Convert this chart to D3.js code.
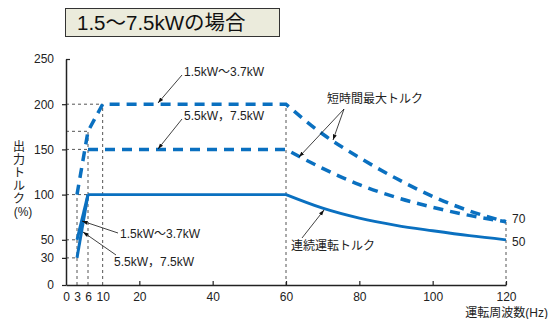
<!DOCTYPE html>
<html>
  <head>
    <meta charset="utf-8">
    <title></title>
    <style>
      body, html{
        margin: 0;
        width: 100%;
        height: 100%;
        background: #fff;
      }
      svg{
        display: block;
        font-family: "Liberation Sans", Arial, "Noto Sans CJK JP", sans-serif;
      }
      .ja{
        font-family: "Liberation Sans", "Noto Sans CJK JP", sans-serif;
      }
    </style>
  </head>
  <body>
    <svg id="chart" width="551" height="319"></svg>
    <script src="https://cdnjs.cloudflare.com/ajax/libs/d3/7.8.5/d3.min.js" charset="utf-8"></script>
    <script>
      // values
      var xTicks = [0, 3, 6, 10, 20, 40, 60, 80, 100, 120]
      var yTicks = [0, 30, 50, 100, 150, 200, 250]

      // short-time max torque, 1.5kW~3.7kW
      var shortAFreq = [3, 6, 10, 60, 70, 80, 90, 100, 110, 120]
      var shortATorque = [100, 170, 200, 200, 167, 141, 118, 98, 82, 70]
      // short-time max torque, 5.5kW, 7.5kW
      var shortBFreq = [6, 60, 70, 80, 90, 100, 110, 120]
      var shortBTorque = [150, 150, 129, 111, 97, 86, 77, 70]
      // continuous torque
      var contFreq = [6, 60, 70, 80, 90, 100, 110, 120]
      var contTorque = [100, 100, 85, 74, 66, 60, 54.5, 50]
      var startAFreq = [3, 6], startATorque = [50, 100]
      var startBFreq = [3, 6], startBTorque = [30, 100]

      // dotted guide lines: [x0, y0, x1, y1] in data units
      var guides = [
        [0, 200, 10, 200], [0, 170, 6, 170], [0, 150, 6, 150], [0, 100, 6, 100],
        [0, 50, 3, 50], [0, 30, 3, 30],
        [3, 0, 3, 100], [6, 0, 6, 170], [10, 0, 10, 200], [60, 0, 60, 200], [120, 0, 120, 70]
      ]

      var blue = '#0a70c0'
      var svg = d3.select('#chart')
      var x = d3.scaleLinear().domain([0, 120]).range([66, 506])
      var y = d3.scaleLinear().domain([0, 250]).range([285, 59])

      svg.append('defs').append('marker')
        .attr('id', 'arr').attr('viewBox', '0 0 10 10').attr('refX', 10).attr('refY', 5)
        .attr('markerWidth', 7).attr('markerHeight', 7).attr('orient', 'auto')
        .append('path').attr('d', 'M0,1.5L10,5L0,8.5z').attr('fill', '#111')

      // title box
      svg.append('rect').attr('x', 65.5).attr('y', 8.5).attr('width', 214).attr('height', 28)
        .attr('fill', '#ebebdc').attr('stroke', '#333').attr('stroke-width', 1)
      svg.append('text').attr('class', 'ja').attr('x', 77).attr('y', 30)
        .attr('font-size', 20.5).attr('fill', '#111').text('1.5〜7.5kWの場合')

      // guides
      svg.append('g').selectAll('line').data(guides).join('line')
        .attr('x1', function(d){ return x(d[0]) }).attr('y1', function(d){ return y(d[1]) })
        .attr('x2', function(d){ return x(d[2]) }).attr('y2', function(d){ return y(d[3]) })
        .attr('stroke', '#555').attr('stroke-width', 1).attr('stroke-dasharray', '3,3')

      // axes
      var xAxis = svg.append('g').attr('transform', 'translate(0,' + y(0) + ')')
        .call(d3.axisBottom(x).tickValues(xTicks).tickSize(0).tickPadding(7))
      xAxis.select('.domain').attr('stroke', '#222').attr('stroke-width', 1.5)
      xAxis.selectAll('text').attr('font-size', 12).attr('fill', '#222')
      xAxis.selectAll('.tick').filter(function(d){ return d >= 20 }).select('line')
        .attr('y2', -4).attr('stroke', '#222').attr('stroke-width', 1.2)

      var yAxis = svg.append('g').attr('transform', 'translate(' + x(0) + ',0)')
        .call(d3.axisLeft(y).tickValues(yTicks).tickSizeInner(4).tickSizeOuter(0).tickPadding(8))
      yAxis.select('.domain').attr('stroke', '#222').attr('stroke-width', 1.5)
      yAxis.selectAll('line').attr('stroke', '#222').attr('stroke-width', 1.2)
      yAxis.selectAll('text').attr('font-size', 12).attr('fill', '#222')
      yAxis.selectAll('.tick').filter(function(d){ return d === 250 }).select('line').attr('x2', 4)

      // curves: straight up to 60 Hz, smooth fall after it, joined into one path
      function pts(fs, ts){ return fs.map(function(f, i){ return [f, ts[i]] }) }
      var smooth = d3.line().x(function(d){ return x(d[0]) }).y(function(d){ return y(d[1]) })
        .curve(d3.curveMonotoneX)
      var flat = d3.line().x(function(d){ return x(d[0]) }).y(function(d){ return y(d[1]) })
      function joined(fs, ts){
        var p = pts(fs, ts), i60 = fs.indexOf(60)
        return flat(p.slice(0, i60 + 1)) + smooth(p.slice(i60)).replace('M', 'L')
      }

      svg.append('path').attr('d', joined(shortAFreq, shortATorque))
        .attr('fill', 'none').attr('stroke', blue).attr('stroke-width', 3.5).attr('stroke-dasharray', '10,7')
      svg.append('path').attr('d', joined(shortBFreq, shortBTorque))
        .attr('fill', 'none').attr('stroke', blue).attr('stroke-width', 3.5).attr('stroke-dasharray', '10,7')
      svg.append('path').attr('d', joined(contFreq, contTorque))
        .attr('fill', 'none').attr('stroke', blue).attr('stroke-width', 2.8)
      svg.append('path').attr('d', flat(pts(startAFreq, startATorque)))
        .attr('fill', 'none').attr('stroke', blue).attr('stroke-width', 3)
      svg.append('path').attr('d', flat(pts(startBFreq, startBTorque)))
        .attr('fill', 'none').attr('stroke', blue).attr('stroke-width', 3)

      // annotations
      var arrows = [
        [182, 75, 158, 103], [182, 119, 158, 149],
        [344, 109, 333, 140], [344, 109, 299, 157],
        [302, 238, 324, 210],
        [118, 233, 82, 221], [116, 255, 83, 232]
      ]
      svg.append('g').selectAll('line').data(arrows).join('line')
        .attr('x1', function(d){ return d[0] }).attr('y1', function(d){ return d[1] })
        .attr('x2', function(d){ return d[2] }).attr('y2', function(d){ return d[3] })
        .attr('stroke', '#111').attr('stroke-width', 0.8).attr('marker-end', 'url(#arr)')

      var labels = [
        ['1.5kW〜3.7kW', 184, 76, 'start'],
        ['5.5kW，7.5kW', 184, 120, 'start'],
        ['短時間最大トルク', 327, 103, 'start'],
        ['連続運転トルク', 291, 250, 'start'],
        ['1.5kW〜3.7kW', 120, 238, 'start'],
        ['5.5kW，7.5kW', 114, 266, 'start'],
        ['70', 512, 223, 'start'],
        ['50', 512, 246, 'start'],
        ['運転周波数(Hz)', 548, 317, 'end']
      ]
      svg.append('g').selectAll('text').data(labels).join('text')
        .attr('class', 'ja').attr('font-size', 12).attr('fill', '#222')
        .attr('x', function(d){ return d[1] }).attr('y', function(d){ return d[2] })
        .attr('text-anchor', function(d){ return d[3] }).text(function(d){ return d[0] })

      // vertical y label
      var yl = svg.append('text').attr('class', 'ja').attr('font-size', 12).attr('fill', '#222')
        .attr('text-anchor', 'middle')
      var chars = ['出', '力', 'ト', 'ル', 'ク', '(%)']
      chars.forEach(function(c, i){
        yl.append('tspan').attr('x', i < 5 ? 19 : 23).attr('y', 151 + i * 13).text(c)
      })
    </script>
  </body>
</html>
